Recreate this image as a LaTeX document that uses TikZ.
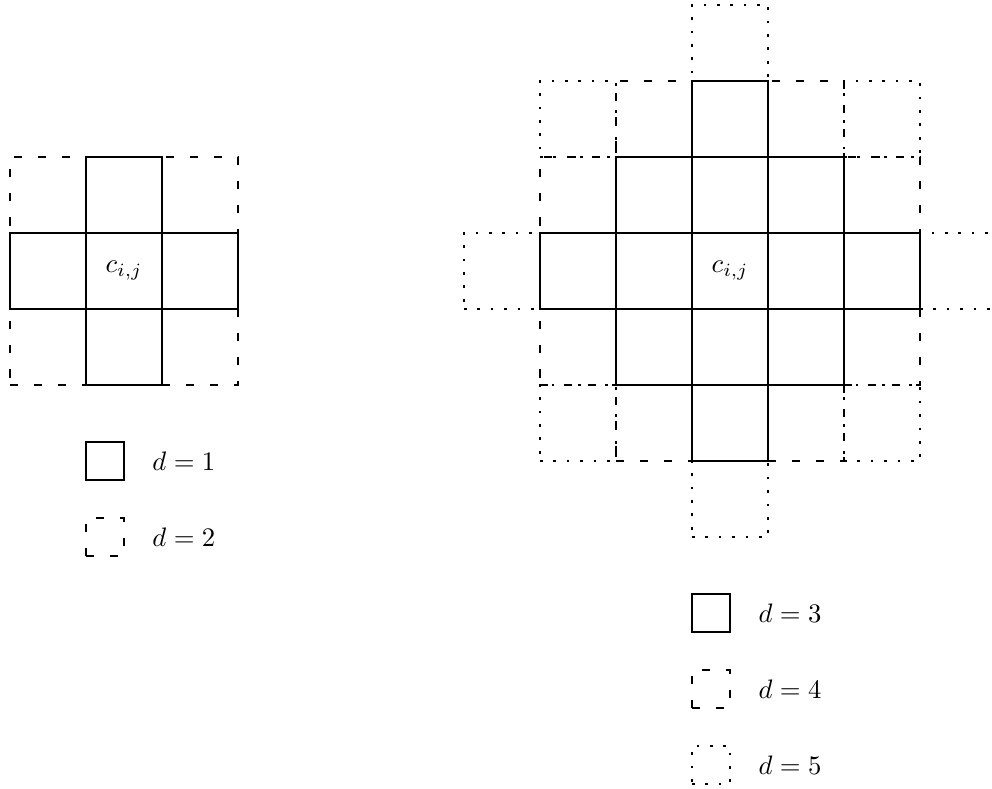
\documentclass[tikz,border=0pt]{standalone}
\usepackage{amsmath}
\usepackage{tikz}
\usetikzlibrary{positioning}
\tikzset{
  cell/.style={draw, line width=1pt, minimum size=1cm, inner sep=0pt, outer sep=0pt},
  near/.style={cell},
  mid/.style={cell, loosely dashed},
  far/.style={cell, loosely dotted},
  key/.style={draw, line width=1pt, minimum size=5mm, inner sep=0pt, outer sep=0pt},
  keylbl/.style={right=2.5mm of #1}}

\begin{document}
\begin{tikzpicture}
  \useasboundingbox (-0.132,-5.303) rectangle (12.92,5.066);
  % left neighbourhood, d = 1 and d = 2
  \foreach \x/\y in {-1/-1,1/-1,-1/1,1/1}
    \node[mid] (L\x\y) at (1.5+\x,1.5+\y) {};
  \foreach \x/\y in {-1/0,1/0,0/-1,0/1}
    \node[near] (L\x\y) at (1.5+\x,1.5+\y) {};
  \node[near] (L00) at (1.5,1.5) {$c_{i,j}$};
  % right neighbourhood, d = 3, 4 and 5
  \foreach \x/\y in {-2/-2,2/-2,-2/2,2/2,-3/0,3/0,0/-3,0/3}
    \node[far] (R\x\y) at (9.474+\x,1.5+\y) {};
  \foreach \x/\y in {-2/-1,-2/1,2/-1,2/1,-1/-2,1/-2,-1/2,1/2}
    \node[mid] (R\x\y) at (9.474+\x,1.5+\y) {};
  \foreach \x/\y in {-1/-1,1/-1,-1/1,1/1,-1/0,1/0,0/-1,0/1,-2/0,2/0,0/-2,0/2}
    \node[near] (R\x\y) at (9.474+\x,1.5+\y) {};
  \node[near] (R00) at (9.474,1.5) {$c_{i,j}$};
  % keys
  \node[key] (key1) at (1.25,-1) {};
  \node[keylbl=key1] (key1lbl) {$d=1$};
  \node[key, loosely dashed] (key2) at (1.25,-2) {};
  \node[keylbl=key2] (key2lbl) {$d=2$};
  \node[key] (key3) at (9.224,-3) {};
  \node[keylbl=key3] (key3lbl) {$d=3$};
  \node[key, loosely dashed] (key4) at (9.224,-4) {};
  \node[keylbl=key4] (key4lbl) {$d=4$};
  \node[key, loosely dotted] (key5) at (9.224,-5) {};
  \node[keylbl=key5] (key5lbl) {$d=5$};
\end{tikzpicture}
\end{document}
